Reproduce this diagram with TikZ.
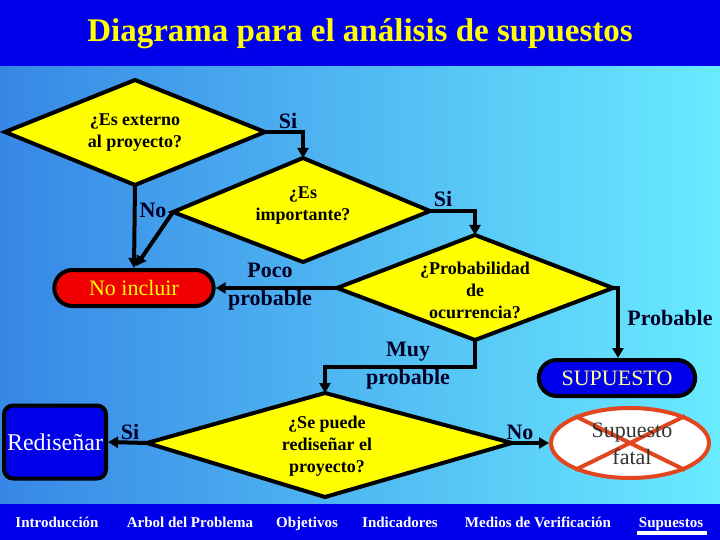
\documentclass[tikz,border=0pt]{standalone}
\usepackage{fontspec}
\setmainfont{Liberation Serif}
\usetikzlibrary{shapes.geometric,shapes.misc,arrows.meta}
\definecolor{bgL}{RGB}{55,135,230}
\definecolor{bgR}{RGB}{105,235,255}
\definecolor{barB}{RGB}{0,0,235}
\definecolor{ylw}{RGB}{255,255,0}
\definecolor{pillR}{RGB}{240,0,0}
\definecolor{xred}{RGB}{225,70,30}
\begin{document}
\begin{tikzpicture}[x=1pt,y=-1pt,
  dia/.style={draw=black,line width=4pt,fill=ylw,line join=miter},
  dtxt/.style={font=\fontsize{18}{22}\selectfont\bfseries,align=center,text=black},
  lbl/.style={font=\fontsize{22}{28}\selectfont\bfseries,align=center,text=black!85!blue},
  conn/.style={line width=4pt,-{Triangle[length=10pt,width=11pt]}}]
\useasboundingbox (0,0) rectangle (720,540);
\shade[left color=bgL,right color=bgR] (0,66) rectangle (720,504);
\fill[barB] (0,0) rectangle (720,66);
\fill[barB] (0,504) rectangle (720,540);
\node[text=ylw,font=\fontsize{33}{36}\selectfont\bfseries] (title) at (360,34) {Diagrama para el análisis de supuestos};
% diamonds
\draw[dia] (5,132) -- (135,80) -- (265,132) -- (135,185) -- cycle;
\node[dtxt] (d1) at (135,133) {¿Es externo\\al proyecto?};
\draw[dia] (173,212) -- (303,158) -- (430,211) -- (303,262) -- cycle;
\node[dtxt] (d2) at (303,206) {¿Es\\importante?};
\draw[dia] (337,288) -- (475,235) -- (613,288) -- (475,340) -- cycle;
\node[dtxt] (d3) at (475,290) {¿Probabilidad\\de\\ocurrencia?};
\draw[dia] (147,443) -- (325,393) -- (512,443) -- (325,497) -- cycle;
\node[dtxt] (d4) at (327,446) {¿Se puede\\rediseñar el\\proyecto?};
\coordinate (d1r) at (265,132); \coordinate (d1b) at (135,185);
\coordinate (d2t) at (303,158); \coordinate (d2l) at (173,212); \coordinate (d2r) at (430,211);
\coordinate (d3t) at (475,235); \coordinate (d3l) at (337,288); \coordinate (d3r) at (613,288); \coordinate (d3b) at (475,340);
\coordinate (d4t) at (325,393); \coordinate (d4l) at (147,443); \coordinate (d4r) at (512,443);
% terminals
\node[draw=black,line width=4pt,fill=pillR,rounded rectangle,minimum width=166pt,minimum height=36pt,text=ylw,font=\fontsize{22}{24}\selectfont] (noinc) at (134,288) {No incluir};
\node[draw=black,line width=4pt,fill=barB,rounded rectangle,minimum width=163pt,minimum height=36pt,text=ylw!40!white,font=\fontsize{22}{24}\selectfont] (sup) at (617,378) {SUPUESTO};
\node[draw=black,line width=4pt,fill=barB,rounded corners=9pt,minimum width=102pt,minimum height=73pt,text=white,font=\fontsize{24}{26}\selectfont,inner sep=1pt] (red) at (55,442) {Rediseñar};
\node[draw=xred,line width=4pt,fill=white,ellipse,minimum width=158pt,minimum height=70pt] (fatal) at (630,443) {};
\draw[xred,line width=4pt] (575,416) -- (685,470) (575,470) -- (685,416);
\node[font=\fontsize{22}{27}\selectfont,align=center,text=black!80] (fataltxt) at (632,444) {Supuesto\\fatal};
% connectors
\draw[conn] (d1r) -- (303,132) -- (d2t);
\draw[conn] (d1b) -- (noinc.north);
\draw[conn] (d2l) -- (136,266);
\draw[conn] (d2r) -- (475,211) -- (d3t);
\draw[conn] (d3l) -- (noinc.east);
\draw[conn] (d3r) -- (618,288) -- (618,358);
\draw[conn] (d3b) -- (475,367) -- (325,367) -- (d4t);
\draw[conn] (d4l) -- (red.east);
\draw[conn] (d4r) -- (fatal.west);
% labels
\node[lbl] (l1) at (288,121) {Si};
\node[lbl] (l2) at (153,210) {No};
\node[lbl] (l3) at (443,199) {Si};
\node[lbl] (l4) at (270,287) {Poco\\probable};
\node[lbl] (l5) at (670,318) {Probable};
\node[lbl] (l6) at (408,366) {Muy\\probable};
\node[lbl] (l7) at (130,432) {Si};
\node[lbl] (l8) at (520,432) {No};
% footer
\begin{scope}[every node/.style={text=white,font=\fontsize{15}{16}\selectfont\bfseries,anchor=base}]
\node (f1) at (57,527) {Introducción};
\node (f2) at (190,527) {Arbol del Problema};
\node (f3) at (307,527) {Objetivos};
\node (f4) at (400,527) {Indicadores};
\node (f5) at (538,527) {Medios de Verificación};
\node (f6) at (671,527) {Supuestos};
\end{scope}
\fill[white] (637,531) rectangle (707,535);
\end{tikzpicture}
\end{document}
